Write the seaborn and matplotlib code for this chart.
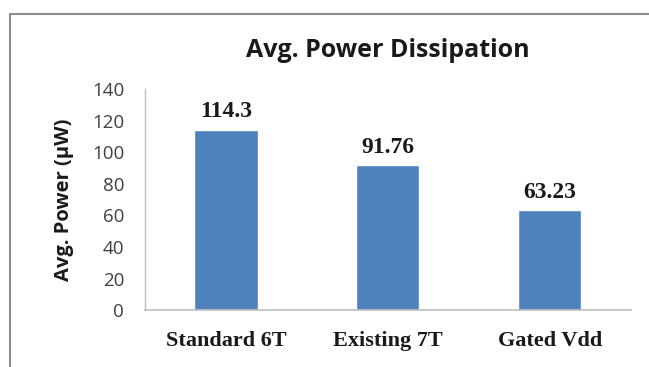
import matplotlib
matplotlib.use("Agg")
import matplotlib.pyplot as plt
import seaborn as sns
import pandas as pd
from matplotlib.lines import Line2D

# data
designs = ["Standard 6T", "Existing 7T", "Gated Vdd"]
avg_power = [114.3, 91.76, 63.23]
value_labels = ["114.3", "91.76", "63.23"]

df = pd.DataFrame({"design": designs, "power": avg_power})

sns.set_theme(style="white")
plt.rcParams["font.family"] = ["Open Sans", "DejaVu Sans"]

fig = plt.figure(figsize=(6.49, 3.67), dpi=100)
ax = fig.add_axes([0.2234, 0.155, 0.7486, 0.6025])

sns.barplot(data=df, x="design", y="power", color="#4F81BD", width=0.39,
            saturation=1, ax=ax)

for i, lab in enumerate(value_labels):
    ax.text(i, avg_power[i] + 8, lab, ha="center", va="baseline",
            fontsize=17, fontweight="bold", family="Liberation Serif",
            color="#1a1a1a")

ax.set_ylim(0, 140)
ax.set_xlim(-0.5, 2.5)
ax.set_yticks(range(0, 141, 20))
ax.tick_params(axis="y", labelsize=13.5, colors="#404040", length=0, pad=15)
ax.tick_params(axis="x", length=0, pad=15)
for t in ax.get_xticklabels():
    t.set_fontfamily("Liberation Serif")
    t.set_fontweight("bold")
    t.set_fontsize(16)
    t.set_color("#1a1a1a")

ax.set_xlabel("")
ax.set_ylabel("Avg. Power (\u00b5W)", fontsize=14.5, fontweight="bold",
              color="#1a1a1a", labelpad=13)
ax.set_title("Avg. Power Dissipation", fontsize=18, fontweight="bold",
             color="#1a1a1a", pad=23)

sns.despine(ax=ax, top=True, right=True)
ax.spines["left"].set_color("#bfbfbf")
ax.spines["bottom"].set_color("#bfbfbf")
ax.spines["left"].set_linewidth(1)
ax.spines["bottom"].set_linewidth(1.2)

# outer chart border (only left and top visible in the crop)
x0, y0 = 10 / 649, 1 - 14 / 367
fig.add_artist(Line2D([x0, x0], [0, y0], color="#8c8c8c", lw=1.5))
fig.add_artist(Line2D([x0, 1], [y0, y0], color="#8c8c8c", lw=1.5))

fig.savefig("out.png", dpi=100)
